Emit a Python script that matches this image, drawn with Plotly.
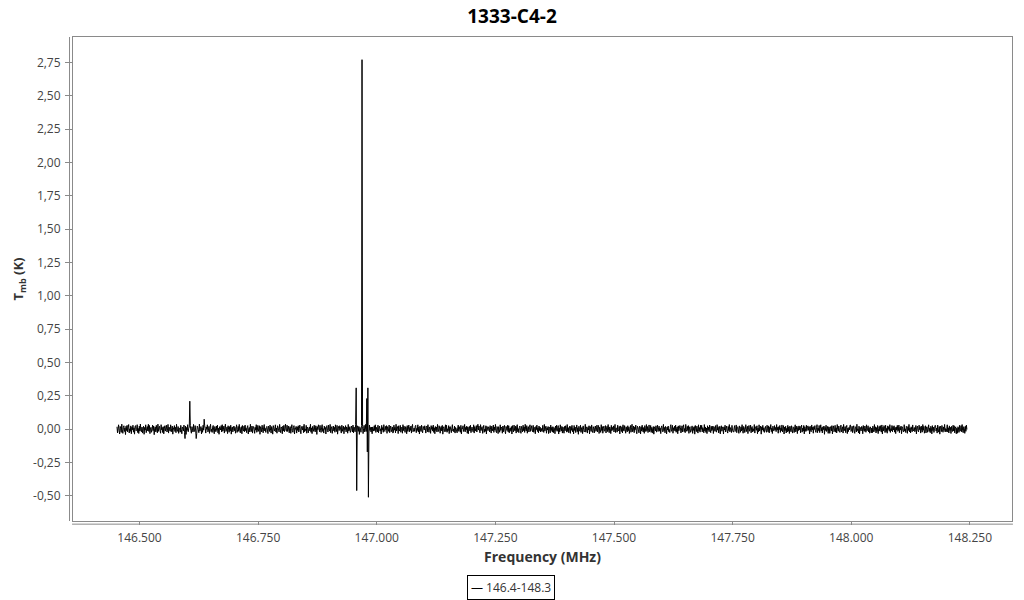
import numpy as np
import plotly.graph_objects as go

# ---------------- data ----------------
title_text = "1333-C4-2"
series_name = "146.4-148.3"
freq_start_mhz = 146.4526
freq_end_mhz = 148.2437

# baseline noise of the spectrum, in mK
noise_mK = [
    18, -27, 6, 33, -12, -36, 21, 4, -24, 38, -5, -31, 13, 26, -17, 9, -40, 22, -10, 29,
    -20, 11, 35, -28, 3, -16, 25, -34, 15, -4, 30, -22, 10, -37, 19, 27, -12, -3, 34, -25,
    6, -32, 23, -14, 39, -9, -19, 16, -29, 5, 22, -38, 13, -7, 33, -26, 2, 20, -13, 37,
    -17, 28, -33, 9, 14, -23, -2, 31, -11, 24, -41, 7, 17, -20, 29, -6, -27, 38, -16, 12,
    22, -10, -30, 34, -4, 13, -25, 19, -35, 3, 26, -14, 9, 30, -21, -8, 36, -29, 16, -3,
    -13, 33, -20, 6, 24, -37, 11, -1, 27, -17, 14, -26, 37, -7, -16, 20, -31, 10, 4, -22,
    29, -4, -34, 17, 9, -13, 31, -24, 2, 23, -39, 13, -9, 34, -19, 7, 16, -27, 26, -11,
    -30, 19, 3, -21, 36, -10, -17, 27, -6, 11, -33, 23, 14, -3, -26, 38, -14, 4, 20, -35,
    10, -23, 30, -7, -16, 26, 6, -29, 17, -1, 33, -20, -11, 21, -31, 13, 37, -17, 0, -24,
    16, 28, -13, -34, 20, 3, -19, 24, -9, 31, -27, 7, -38, 19, 11, -6, 27, -21, 34, -14,
    -4, 23, -29, 13, 38, -17, -7, 16, -33, 26, 1, -23, 20, -13, 30, -37, 9, 17, -20, 4,
    24, -11, 14, -30, 6, 33, -24, -3, 21, -16, 36, -9, -27, 11, 19, -34, 28, -4, -14, 23,
    -19, 31, -10, 7, -26, 17, 27, -36, 4, 13, -21, 37, -6, -17, 24, -29, 10, 20, -1, -31,
    14, -7, 34, -23, -11, 29, -16, 3, 26, -38, 19, 9, -20, 30, -4, -27, 16, 35, -13, 6,
    -24, 13, 21, -6, -33, 23, 10, -17, 31, -9, -29, 20, 1, -37, 27, 11, -14, 4, 33, -21,
    9, -30, 26, 16, -10, -20, 36, -3, -26, 17, 7, -34, 23, -13, 29, -19, 3, 38, -7, -16,
    30, -17, -4, 24, -27, 11, 19, -31, 6, 34, -11, -23, 14, 27, -36, 10, -1, 21, -29, 17,
    -9, 26, -21, 4, 31, -14, -34, 20, 13, -6, 23, -26, 37, -19, 1, -10, 29, -30, 16, 7,
    -27, 6, 17, -13, 37, -23, 10, -33, 21, 3, -16, 30, -7, -20, 26, 14, -39, 19, -3, 33,
    11, -19, 29, -9, -24, 16, 34, -17, 4, -29, 23, -1, 13, -36, 20, 27, -11, -21, 31, -6,
    -14, 36, -26, 9, 19, -31, 1, 24, -13, 14, -23, 33, -4, -17, 29, -37, 7, 21, -10, 26,
    20, -6, -29, 30, -16, 4, 23, -34, 13, -3, 27, -20, 17, 10, -30, 36, -14, -7, 19, -24,
    -11, 24, 9, -21, 31, -27, 16, 3, -19, 34, -9, -31, 26, 11, -16, 21, -39, 14, 6, -23,
    27, -13, 19, -33, 7, 29, -20, -4, 37, -17, 10, -26, 20, 1, -29, 31, -9, 13, -21, 16,
    -34, 17, 4, -14, 26, -10, 33, -24, 14, -1, -20, 30, -27, 9, 23, -13, 3, -36, 29, -7,
    13, -23, 34, -11, -17, 21, -4, 27, -31, 19, 6, -16, 31, -26, 10, 24, -19, -3, 17, -29,
    -21, 30, -7, 14, -27, 37, -13, 7, 20, -33, 26, -6, -14, 29, -23, 4, 16, -30, 34, -10,
    23, -3, -24, 19, 11, -34, 27, -16, 1, 31, -20, 13, -9, 24, -29, 17, 36, -19, -4, 9,
    -16, 20, 29, -26, 6, -10, 33, -21, 16, -36, 23, 3, -17, 30, -11, -27, 21, 10, -6, 26,
    4, -29, 13, 24, -19, 34, -9, -23, 17, 7, -31, 27, -1, 19, -14, 31, -24, 11, -34, 20,
    -10, 16, -21, 36, -4, -17, 26, 9, -30, 14, 21, -13, 29, -37, 6, 19, -7, -20, 33, -16,
    30, -23, 3, -11, 27, -33, 17, 20, -6, -26, 10, 34, -14, 1, -21, 24, -29, 13, 7, -19,
    -27, 9, 31, -16, 19, -3, -23, 29, -36, 11, 4, 26, -17, -10, 36, -20, 14, -4, 23, -30,
    17, -34, 10, 21, -13, 30, -26, 6, 16, -9, -19, 33, -29, 20, 3, -14, 27, -21, 11, 37,
    -6, 24, -17, -27, 34, -10, 13, 19, -31, 7, 29, -23, 1, -16, 26, -36, 21, 9, -11, 17,
    14, -20, 27, -4, -29, 23, 4, -13, 31, -24, 16, -7, 36, -17, -26, 20, 10, -33, 19, -1,
    -23, 33, -9, 16, 7, -30, 24, -19, 13, 29, -14, -34, 21, 3, -10, 30, -20, 26, -27, 6,
    10, -16, 20, -36, 27, 1, -21, 31, -7, -13, 23, -29, 17, 34, -19, 4, -26, 14, 24, -9,
    -31, 21, 6, -20, 30, -11, 17, -24, 37, -4, -14, 27, -30, 9, 19, -21, 13, 33, -16, 3,
    26, -7, -19, 29, -23, 14, 4, -34, 20, -3, 31, -17, 11, -27, 24, -10, 16, -21, 7, -13,
    -17, 29, -3, -24, 36, -13, 9, 23, -30, 11, -6, 20, -33, 17, 4, -27, 31, -10, 14, -21,
    19, -26, 13, 7, -34, 24, -9, 30, -16, 1, 27, -36, 10, -20, 33, -4, -14, 21, -29, 16,
    -3, -30, 21, -12, 26, 8, -22, 35, -17, 12, -27, 3, 24, -31, 18, -8, 29, -19, 6, -35,
    28, -9, 16, -25, 2, 32, -18, 11, -38, 22, -5, -15, 30, -24, 9, 14, -33, 25, -2, -20,
    -12, 37, -22, 5, 18, -29, 12, -6, 26, -35, 21, 8, -17, 32, -11, -25, 19, 3, -28, 13,
    24, -16, -5, 31, -21, 10, 28, -32, 15, -2, -24, 34, -10, 20, -30, 6, 23, -15, -8, 27,
    -28, 12, 22, -18, 35, -7, -26, 17, 4, -33, 29, -12, 14, -4, 25, -21, 8, 36, -25, 10,
    7, -22, 30, -13, -3, 21, -35, 25, 9, -17, 19, -28, 33, -9, -14, 27, -1, -30, 18, -6,
    -20, 26, -11, 15, -32, 3, 28, -23, 12, 37, -19, -8, 24, -26, 16, -3, 31, -15, -34, 22,
    15, -4, -27, 23, 10, -36, 19, -14, 30, -6, -21, 13, -31, 27, 2, -18, 35, -12, 20, -25,
    -8, 32, -19, -10, 28, -24, 14, 6, -29, 20, -37, 18, 9, -13, 26, -22, 1, 30, -17, 11,
    23, -15, 8, -33, 17, 25, -8, -20, 36, -11, 13, -27, 21, 4, -35, 16, -6, 24, -18, -2,
    -25, 18, 34, -16, -4, 29, -30, 11, -9, 22, -14, 31, -23, 7, 17, -34, 25, -12, 3, 28,
    11, -28, -7, 26, -20, 15, 33, -18, 5, -26, 36, -3, -16, 21, -10, 27, -31, 9, 19, -23,
    -15, 7, 25, -31, 14, -9, 20, -37, 28, 3, -18, 23, -6, -29, 33, -14, 12, -22, 30, -1,
    29, -20, 12, 2, -27, 35, -13, 17, -24, 9, -33, 26, -8, 15, -19, 31, -4, -26, 22, -11,
    -5, 24, -32, 19, 7, -16, 27, -11, -22, 34, -7, 14, -28, 22, 1, -35, 17, 26, -15, 8,
    18, -36, 15, -6, 30, -21, 4, 24, -14, -29, 20, -10, 35, -19, 12, -3, -25, 29, -9, -17,
    -22, 9, 27, -17, -11, 32, -26, 13, 19, -5, -31, 25, 6, -23, 18, -13, 34, -8, -30, 21,
    12, -25, -2, 34, -18, 6, 22, -33, 11, 28, -15, -4, 31, -27, 14, 20, -21, 3, -12, 35,
    -29, 16, 20, -8, 26, -34, 9, -19, 33, -13, 5, 24, -37, 17, -6, 29, -16, 11, -24, 4,
    21, -12, -23, 30, 3, -20, 25, -28, 15, -1, 35, -18, 8, -32, 23, -9, -14, 27, -5, 13,
    -18, 35, -6, 14, -30, 19, -3, 28, -24, 10, -11, 32, -21, 4, 27, -36, 16, -10, 22, -28,
    6, -21, 29, -15, 17, -32, 23, 2, -19, 26, -7, -29, 18, 13, -25, 9, 33, -20, -3, 24,
    -33, 13, -10, 25, -4, 21, -27, 16, 31, -22, 8, -14, 28, -35, 19, 3, -17, 30, -11, 15,
    25, -8, 17, -36, 22, -11, -19, 32, -6, 15, -30, 20, -2, 27, -13, -24, 11, 34, -26, 9,
    -10, 28, -25, 5, 33, -14, 12, -28, 18, -3, 24, -38, 14, -9, 30, -17, -6, 21, -31, 17,
    16, -31, 3, 20, -13, 27, -35, 8, 25, -19, -7, 29, -22, 11, -28, 35, -1, -15, 24, -8,
    -24, 11, 31, -20, -2, 18, -29, 36, -12, 4, 20, -26, 16, 29, -33, 8, -18, 13, -5, 30,
    31, -17, -8, 22, -26, 9, 26, -14, -31, 19, 13, -21, 37, -10, 2, -27, 23, -36, 15, -4,
    -13, 21, 14, -34, 28, -7, -16, 24, 3, -23, 33, -12, -5, 26, -20, 12, -30, 18, 9, -27,
    9, -27, 23, -1, -21, 35, -10, 18, -28, 12, -16, 28, -33, 5, 21, -14, 27, -7, -22, 32,
    -36, 15, -12, 27, 8, -25, 30, -18, 6, -30, 25, -2, 19, -15, 34, -24, 4, -11, 28, -19,
    20, -5, 26, -22, 13, -33, 17, -7, 29, -16, -12, 31, -26, 14, -4, 23, -34, 19, 7, -14,
    -21, 34, -14, 3, -25, 22, 11, -31, 20, -9, 36, -20, 9, -28, 18, 1, -19, 32, -13, -6,
    13, -19, -4, 28, -35, 14, 23, -12, -20, 30, -3, 16, -29, 24, -10, -22, 35, -8, 21, -30,
    -7, 26, -28, 16, 19, -23, -1, 33, -17, 8, -26, 22, 12, -35, 27, -11, 15, -24, 3, 29,
    27, -14, 8, -29, 31, -6, -22, 20, -37, 23, 10, -18, 28, -4, -23, 17, -9, 36, -20, 5,
    -19, 3, 33, -21, 11, -28, 25, -10, 14, -32, 21, -6, -17, 30, -13, 26, -27, 7, 18, -34,
    8, -30, 18, 12, -24, 29, -15, -5, 27, -19, 35, -11, -26, 19, 6, -31, 22, -16, 31, -2,
]

# spectral features: (start frequency in MHz, consecutive channel values in K)
line_start_mhz = [146.596, 146.6064, 146.619, 146.636, 146.957, 146.969, 146.9795]
line_values_K = [
    [-0.07],
    [0.21],
    [-0.07],
    [0.075],
    [0.31, -0.46],
    [2.77],
    [0.23, -0.17, 0.31, -0.51],
]

x_tick_vals = [146.5, 146.75, 147.0, 147.25, 147.5, 147.75, 148.0, 148.25]
x_tick_text = ["146.500", "146.750", "147.000", "147.250", "147.500", "147.750", "148.000", "148.250"]
y_tick_vals = [-0.5, -0.25, 0.0, 0.25, 0.5, 0.75, 1.0, 1.25, 1.5, 1.75, 2.0, 2.25, 2.5, 2.75]
y_tick_text = ["-0,50", "-0,25", "0,00", "0,25", "0,50", "0,75", "1,00", "1,25",
               "1,50", "1,75", "2,00", "2,25", "2,50", "2,75"]

# ---------------- build spectrum ----------------
n_chan = len(noise_mK)
freq = np.linspace(freq_start_mhz, freq_end_mhz, n_chan)
tmb = np.array(noise_mK, dtype=float) / 1000.0
for f0, vals in zip(line_start_mhz, line_values_K):
    i0 = int(np.argmin(np.abs(freq - f0)))
    for k, v in enumerate(vals):
        tmb[i0 + k] = v

# ---------------- figure ----------------
# the page body has an 8px margin, so the figure is 1016x592 placed at (8, 8)
font_family = "Open Sans, Noto Sans, DejaVu Sans, sans-serif"
frame_col = "#8a8a8a"
FIG_W, FIG_H = 1016, 592

fig = go.Figure()
fig.add_trace(go.Scatter(
    x=freq, y=tmb, mode="lines", name=series_name,
    line=dict(color="black", width=1, simplify=False), showlegend=False,
))

fig.update_layout(
    width=FIG_W, height=FIG_H,
    margin=dict(l=65, r=12, t=29, b=79),
    paper_bgcolor="white", plot_bgcolor="white",
    font=dict(family=font_family, size=12, color="#444"),
    title=dict(text="<b>" + title_text + "</b>", x=504 / FIG_W, xref="container",
               xanchor="center",
               y=1 - 8 / FIG_H, yref="container", yanchor="middle",
               font=dict(size=19, color="black", family=font_family)),
    xaxis=dict(
        range=[146.3599, 148.3387], tickvals=x_tick_vals, ticktext=x_tick_text,
        showgrid=False, zeroline=False, automargin=False,
        showline=True, mirror=True, linecolor=frame_col, linewidth=1,
        ticks="outside", ticklen=3, tickcolor=frame_col, ticklabelstandoff=3,
        tickfont=dict(size=12, color="#444"),
        title=dict(text="<b>Frequency (MHz)</b>", standoff=6,
                   font=dict(size=14, color="#333")),
    ),
    yaxis=dict(
        range=[-0.688, 2.94], tickvals=y_tick_vals, ticktext=y_tick_text,
        showgrid=False, zeroline=False, automargin=False,
        showline=True, mirror=True, linecolor=frame_col, linewidth=1,
        ticks="outside", ticklen=7, tickcolor=frame_col, ticklabelstandoff=2,
        tickfont=dict(size=12, color="#444"),
        title=dict(text="<b>T<sub>mb</sub> (K)</b>", standoff=6,
                   font=dict(size=13, color="#333")),
    ),
    shapes=[
        # outer (offset) axis lines
        dict(type="line", xref="paper", yref="paper", x0=-0.0037, x1=-0.0037,
             y0=0.0, y1=1.0, line=dict(color=frame_col, width=1)),
        dict(type="line", xref="paper", yref="paper", x0=-0.001, x1=1.001,
             y0=-0.0065, y1=-0.0065, line=dict(color=frame_col, width=1)),
    ],
    annotations=[
        dict(text="<span style='color:black'>—</span> " + series_name,
             xref="paper", yref="paper", x=0.4665, y=-0.137,
             xanchor="center", yanchor="middle", showarrow=False,
             font=dict(size=12, color="#333", family=font_family),
             bordercolor="black", borderwidth=1, borderpad=3, bgcolor="white"),
    ],
)

fig.write_html("out.html")
